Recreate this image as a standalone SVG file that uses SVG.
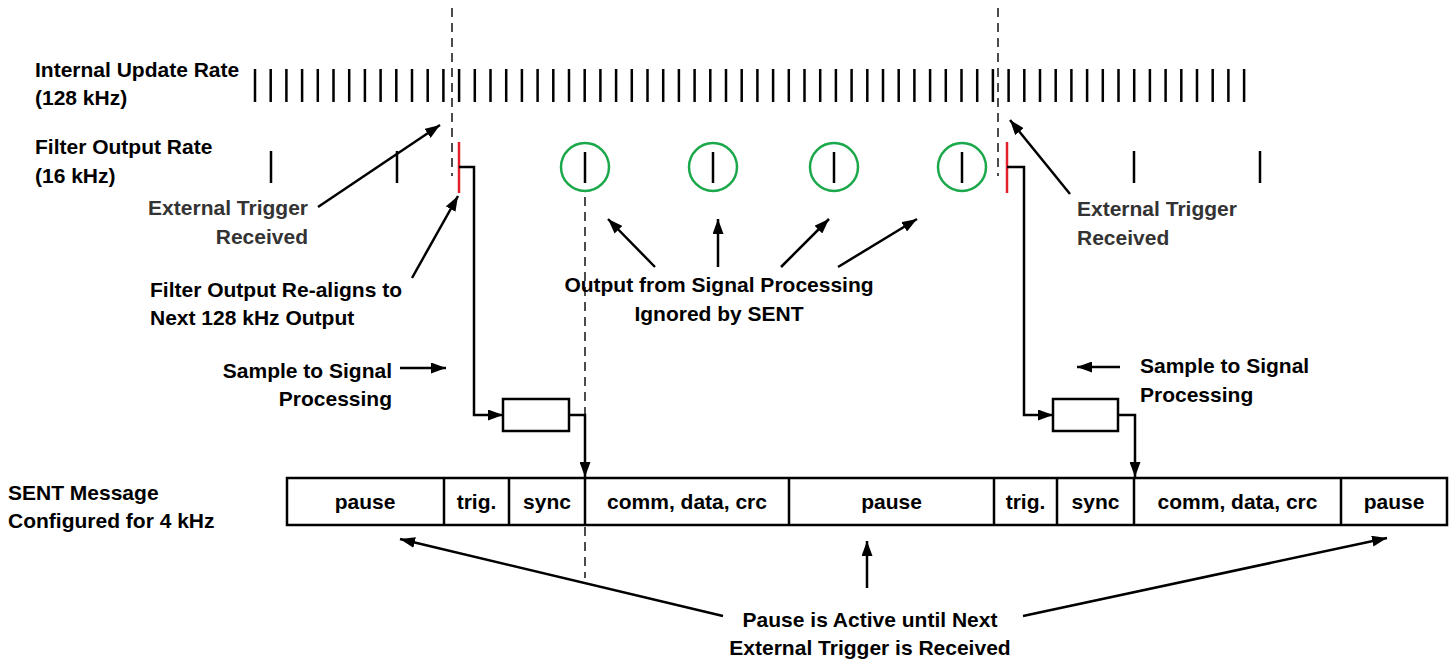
<svg xmlns="http://www.w3.org/2000/svg" width="1453" height="662" viewBox="0 0 1453 662">
<style>
  text { font-family: "Liberation Sans", Arial, sans-serif; font-weight: bold; font-size: 21px; fill: #000; }
  .gray { fill: #333; }
  .tick { stroke: #000; stroke-width: 2.5; fill: none; }
  .red { stroke: #e3202a; stroke-width: 2.5; fill: none; }
  .dash { stroke: #000; stroke-width: 1.4; stroke-dasharray: 9 6; fill: none; }
  .ring { stroke: #1aa84a; stroke-width: 2.5; fill: none; }
  .ln { stroke: #000; stroke-width: 2.5; fill: none; }
  .arr { stroke: #000; stroke-width: 2.5; fill: none; marker-end: url(#ah); }
  .seg { stroke: #000; stroke-width: 2.5; fill: #fff; }
  .mid { text-anchor: middle; }
  .end { text-anchor: end; }
</style>
<defs>
  <marker id="ah" markerUnits="userSpaceOnUse" markerWidth="15" markerHeight="11" refX="15" refY="5.5" orient="auto">
    <path d="M0,0 L15,5.5 L0,11 z" fill="#000"/>
  </marker>
</defs>
<rect width="1453" height="662" fill="#fff"/>

<g id="row-labels">
  <text x="35" y="77">Internal Update Rate</text>
  <text x="35" y="105">(128 kHz)</text>
  <text x="35" y="154">Filter Output Rate</text>
  <text x="35" y="183">(16 kHz)</text>
  <text x="8" y="500">SENT Message</text>
  <text x="8" y="528">Configured for 4 kHz</text>
</g>

<g id="guides">
  <line class="dash" x1="452" y1="8" x2="452" y2="176"/>
  <line class="dash" x1="998" y1="8" x2="998" y2="176"/>
  <line class="dash" x1="585" y1="197" x2="585" y2="578"/>
</g>

<g id="internal-ticks">
  <path class="tick" d="M255,69V102M270.7,69V102M286.4,69V102M302.1,69V102M317.8,69V102M333.5,69V102M349.2,69V102M364.9,69V102M380.6,69V102M396.3,69V102M412,69V102M427.7,69V102M443.4,69V102M459.1,69V102M474.8,69V102M490.5,69V102M506.2,69V102M521.9,69V102M537.6,69V102M553.3,69V102M569,69V102M584.7,69V102M600.4,69V102M616.1,69V102M631.8,69V102M647.5,69V102M663.2,69V102M678.9,69V102M694.6,69V102M710.3,69V102M726,69V102M741.7,69V102M757.4,69V102M773.1,69V102M788.8,69V102M804.5,69V102M820.2,69V102M835.9,69V102M851.6,69V102M867.3,69V102M883,69V102M898.7,69V102M914.4,69V102M930.1,69V102M945.8,69V102M961.5,69V102M977.2,69V102M992.9,69V102M1008.6,69V102M1024.3,69V102M1040,69V102M1055.7,69V102M1071.4,69V102M1087.1,69V102M1102.8,69V102M1118.5,69V102M1134.2,69V102M1149.9,69V102M1165.6,69V102M1181.3,69V102M1197,69V102M1212.7,69V102M1228.4,69V102M1244.1,69V102"/>
</g>

<g id="filter-ticks">
  <path class="tick" d="M271,151V183M397,151V183M1134,151V183M1260,151V183"/>
  <line class="red" x1="459" y1="142" x2="459" y2="193"/>
  <line class="red" x1="1007" y1="142" x2="1007" y2="193"/>
</g>

<g id="ignored-outputs">
  <circle class="ring" cx="585" cy="167" r="24"/>
  <line class="tick" x1="585" y1="152" x2="585" y2="183"/>
  <circle class="ring" cx="713" cy="167" r="24"/>
  <line class="tick" x1="713" y1="152" x2="713" y2="183"/>
  <circle class="ring" cx="834" cy="167" r="24"/>
  <line class="tick" x1="834" y1="152" x2="834" y2="183"/>
  <circle class="ring" cx="962" cy="167" r="24"/>
  <line class="tick" x1="962" y1="152" x2="962" y2="183"/>
</g>

<g id="sp-box-left">
  <rect class="seg" x="503" y="399" width="66" height="32"/>
</g>
<g id="sp-box-right">
  <rect class="seg" x="1053" y="399" width="65" height="32"/>
</g>

<g id="sent-message">
  <rect class="seg" x="287" y="478" width="1160" height="47"/>
  <path class="ln" d="M444,478V525M509,478V525M585,478V525M789,478V525M994,478V525M1057,478V525M1134,478V525M1341,478V525"/>
  <text class="mid" x="365" y="509">pause</text>
  <text class="mid" x="476.5" y="509">trig.</text>
  <text class="mid" x="547" y="509">sync</text>
  <text class="mid" x="687" y="509">comm, data, crc</text>
  <text class="mid" x="891.5" y="509">pause</text>
  <text class="mid" x="1025.5" y="509">trig.</text>
  <text class="mid" x="1095.5" y="509">sync</text>
  <text class="mid" x="1237.5" y="509">comm, data, crc</text>
  <text class="mid" x="1394" y="509">pause</text>
</g>

<g id="annotations">
  <text class="gray end" x="308" y="215">External Trigger</text>
  <text class="gray end" x="308" y="244">Received</text>
  <text x="150" y="297">Filter Output Re-aligns to</text>
  <text x="150" y="325">Next 128 kHz Output</text>
  <text class="end" x="392" y="378">Sample to Signal</text>
  <text class="end" x="392" y="406">Processing</text>
  <text class="mid" x="719" y="292">Output from Signal Processing</text>
  <text class="mid" x="719" y="321">Ignored by SENT</text>
  <text class="gray" x="1077" y="216">External Trigger</text>
  <text class="gray" x="1077" y="245">Received</text>
  <text x="1140" y="373">Sample to Signal</text>
  <text x="1140" y="402">Processing</text>
  <text class="mid" x="870" y="627">Pause is Active until Next</text>
  <text class="mid" x="870" y="655">External Trigger is Received</text>
</g>

<g id="connectors">
  <path class="arr" d="M459,167H474V415H503"/>
  <path class="arr" d="M569,415H585V477"/>
  <path class="arr" d="M1007,167H1024V415H1053"/>
  <path class="arr" d="M1118,415H1135V477"/>
  <line class="arr" x1="318" y1="207" x2="440" y2="125"/>
  <line class="arr" x1="412" y1="278" x2="458" y2="196"/>
  <line class="arr" x1="400" y1="368" x2="446" y2="368"/>
  <line class="arr" x1="1120" y1="367" x2="1077" y2="367"/>
  <line class="arr" x1="1070" y1="194" x2="1010" y2="120"/>
  <line class="arr" x1="655" y1="267" x2="608" y2="219"/>
  <line class="arr" x1="718" y1="267" x2="718" y2="219"/>
  <line class="arr" x1="781" y1="267" x2="829" y2="219"/>
  <line class="arr" x1="838" y1="267" x2="917" y2="219"/>
  <line class="arr" x1="723" y1="616" x2="400" y2="539"/>
  <line class="arr" x1="867" y1="588" x2="867" y2="541"/>
  <line class="arr" x1="1023" y1="616" x2="1387" y2="538"/>
</g>
</svg>
